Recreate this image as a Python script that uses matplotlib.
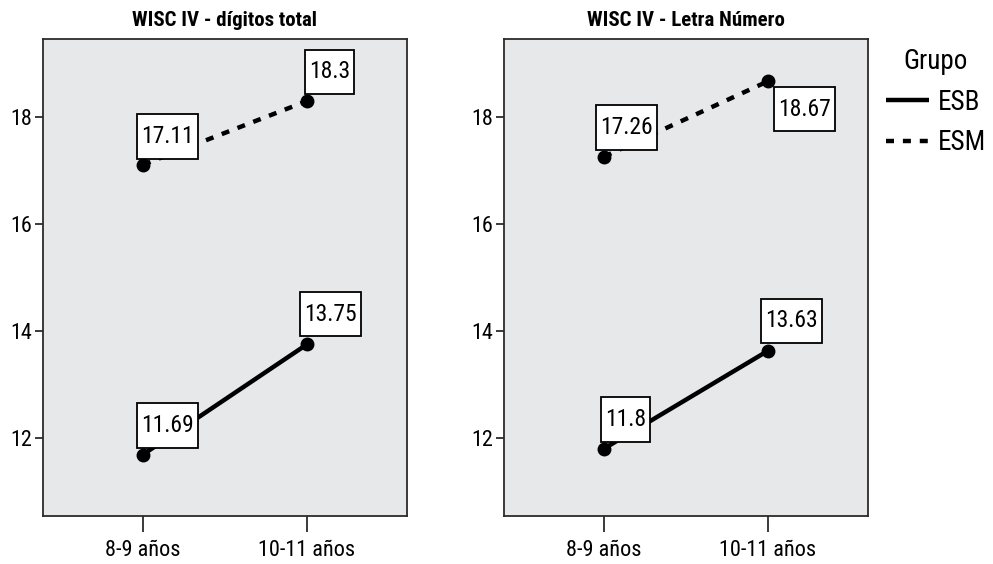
import matplotlib
matplotlib.use('Agg')
import matplotlib.pyplot as plt
from matplotlib.lines import Line2D
from matplotlib.path import Path

# ---------------- data ----------------
groups = ['ESB', 'ESM']
ages = ['8-9 años', '10-11 años']
titles = ['WISC IV - dígitos total', 'WISC IV - Letra Número']
digitos_esb = [11.69, 13.75]
digitos_esm = [17.11, 18.3]
letra_esb = [11.8, 13.63]
letra_esm = [17.26, 18.67]
yticks = [12, 14, 16, 18]

# ---------------- style ----------------
plt.rcParams['font.family'] = ['Liberation Sans Narrow', 'Arial Narrow',
                               'Roboto Condensed', 'Open Sans Condensed',
                               'Liberation Sans', 'DejaVu Sans']
plt.rcParams['font.stretch'] = 'condensed'
BG = '#e7e8ea'
SPINE = '#2b2b2b'
styles = {
    'ESB': dict(linestyle='-', lw=3.2),
    'ESM': dict(linestyle=(0, (1.8, 2.0)), lw=3.2),
}
# box-corner offsets (px) relative to each point: (dx_left, dy, 'above'/'below')
label_offsets = [
    {'ESB': [(-6, 7, 'above'), (-7, 8, 'above')],
     'ESM': [(-6, 6, 'above'), (-2, 7, 'above')]},
    {'ESB': [(-3, 7, 'above'), (-7, 8, 'above')],
     'ESM': [(-8, 7, 'above'), (6, 6, 'below')]},
]
LABEL_FS = 17
HP, VP = 0.17, 0.45          # box padding, fraction of font size
fs_px = LABEL_FS * 100 / 72
hp_px, vp_px = HP * fs_px, VP * fs_px


def tallbox(x0, y0, width, height, mutation_size):
    hp = HP * mutation_size
    vp = VP * mutation_size
    a, b = x0 - hp, y0 - vp
    c, d = x0 + width + hp, y0 + height + vp
    return Path([(a, b), (c, b), (c, d), (a, d), (a, b)],
                [Path.MOVETO, Path.LINETO, Path.LINETO, Path.LINETO, Path.CLOSEPOLY])


fig = plt.figure(figsize=(9.93, 5.64), dpi=100)
axes = [fig.add_axes([43 / 993, 48 / 564, 364 / 993, 477 / 564]),
        fig.add_axes([504 / 993, 48 / 564, 364 / 993, 477 / 564])]

series = [{'ESB': digitos_esb, 'ESM': digitos_esm},
          {'ESB': letra_esb, 'ESM': letra_esm}]

xs = list(range(len(ages)))
for k, ax in enumerate(axes):
    ax.set_facecolor(BG)
    for g in groups:
        vals = series[k][g]
        ax.plot(xs, vals, color='black', zorder=2, solid_capstyle='butt',
                dash_capstyle='butt', **styles[g])
        ax.plot(xs, vals, 'o', color='black', markersize=9, zorder=3)
        for i, v in enumerate(vals):
            dx, dy, where = label_offsets[k][g][i]
            box = dict(boxstyle=tallbox, fc='white', ec='black', lw=1.3)
            if where == 'above':
                ax.annotate(f"{v:g}", xy=(xs[i], v),
                            xytext=(dx + hp_px, dy + vp_px),
                            textcoords='offset pixels', ha='left', va='bottom',
                            fontsize=LABEL_FS, zorder=5, bbox=box)
            else:
                ax.annotate(f"{v:g}", xy=(xs[i], v),
                            xytext=(dx + hp_px, -(dy + vp_px)),
                            textcoords='offset pixels', ha='left', va='top',
                            fontsize=LABEL_FS, zorder=5, bbox=box)
    ax.set_xlim(-0.61, 1.61)
    ax.set_ylim(10.54, 19.46)
    ax.set_xticks(xs)
    ax.set_xticklabels(ages)
    ax.set_yticks(yticks)
    ax.set_yticklabels([str(t) for t in yticks])
    ax.tick_params(axis='x', length=11.5, width=1.3, pad=6, labelsize=16, color=SPINE)
    ax.tick_params(axis='y', length=6, width=1.3, pad=2, labelsize=16, color=SPINE)
    for s in ax.spines.values():
        s.set_color(SPINE)
        s.set_linewidth(1.3)
    ax.set_title(titles[k], fontsize=15, fontweight='bold', pad=9)

handles = [Line2D([0], [0], color='black', solid_capstyle='butt',
                  dash_capstyle='butt', **styles[g]) for g in groups]
leg = fig.legend(handles, groups, title='Grupo', loc='upper left',
                 bbox_to_anchor=(886 / 993, 1 - 48 / 564), frameon=False,
                 fontsize=19.5, title_fontsize=19.5, handlelength=1.6,
                 handletextpad=0.3, labelspacing=0.5, borderpad=0,
                 borderaxespad=0)

fig.savefig('out.png', dpi=100, facecolor='white')
